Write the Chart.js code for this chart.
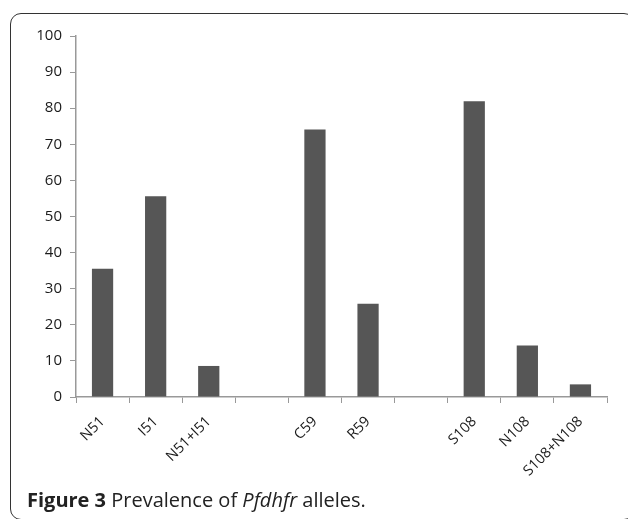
<!DOCTYPE html>
<html>
<head>
<meta charset="utf-8">
<script src="https://cdn.jsdelivr.net/npm/chart.js@4.4.0/dist/chart.umd.min.js"></script>
<style>
  html, body { margin:0; padding:0; background:#fff; width:628px; height:519px; overflow:hidden; }
  #frame { position:absolute; left:10px; top:13px; width:625px; height:507px; border:1.6px solid #333; border-radius:11px; box-sizing:border-box; }
  #wrap { position:absolute; left:0; top:0; width:628px; height:519px; }
  #caption { position:absolute; left:27px; top:486px; font-family:"Open Sans", sans-serif; font-size:20px; line-height:normal; color:#222; white-space:nowrap; }
  #caption b { font-weight:700; }
</style>
</head>
<body>
<div id="frame"></div>
<div id="wrap"><canvas id="c" width="628" height="519"></canvas></div>
<div id="caption"><b>Figure 3</b> Prevalence of <i>Pfdhfr</i> alleles.</div>
<script>
const categories = ["N51", "I51", "N51+I51", "", "C59", "R59", "", "S108", "N108", "S108+N108"];
const prevalence = [35.5, 55.6, 8.6, null, 74.1, 25.8, null, 81.9, 14.3, 3.5];
const yTicks = [0, 10, 20, 30, 40, 50, 60, 70, 80, 90, 100];

new Chart(document.getElementById('c'), {
  type: 'bar',
  data: {
    labels: categories,
    datasets: [{
      data: prevalence,
      backgroundColor: '#565656',
      borderWidth: 0,
      barPercentage: 0.4,
      categoryPercentage: 1.0
    }]
  },
  options: {
    responsive: false,
    animation: false,
    devicePixelRatio: 1,
    layout: { padding: { left: 14, top: 36, right: 21, bottom: 0 } },
    plugins: { legend: { display: false }, tooltip: { enabled: false } },
    scales: {
      x: {
        grid: { offset: true, drawOnChartArea: false, drawTicks: true, tickLength: 6, color: '#999', lineWidth: 1 },
        border: { color: '#999', width: 1.5 },
        ticks: { minRotation: 45, maxRotation: 45, autoSkip: false, color: '#1a1a1a', font: { family: 'Open Sans', size: 14.5 }, padding: 10 },
        afterFit: s => { s.height = 519 - 397; }
      },
      y: {
        min: 0, max: 100,
        afterBuildTicks: s => { s.ticks = yTicks.map(v => ({ value: v })); },
        grid: { drawOnChartArea: false, drawTicks: true, tickLength: 6, color: '#999', lineWidth: 1 },
        border: { color: '#999', width: 1.5 },
        ticks: { color: '#1a1a1a', font: { family: 'Open Sans', size: 15 }, padding: 8 },
        afterFit: s => { s.width = 76 - 14; }
      }
    }
  }
});
</script>
</body>
</html>
